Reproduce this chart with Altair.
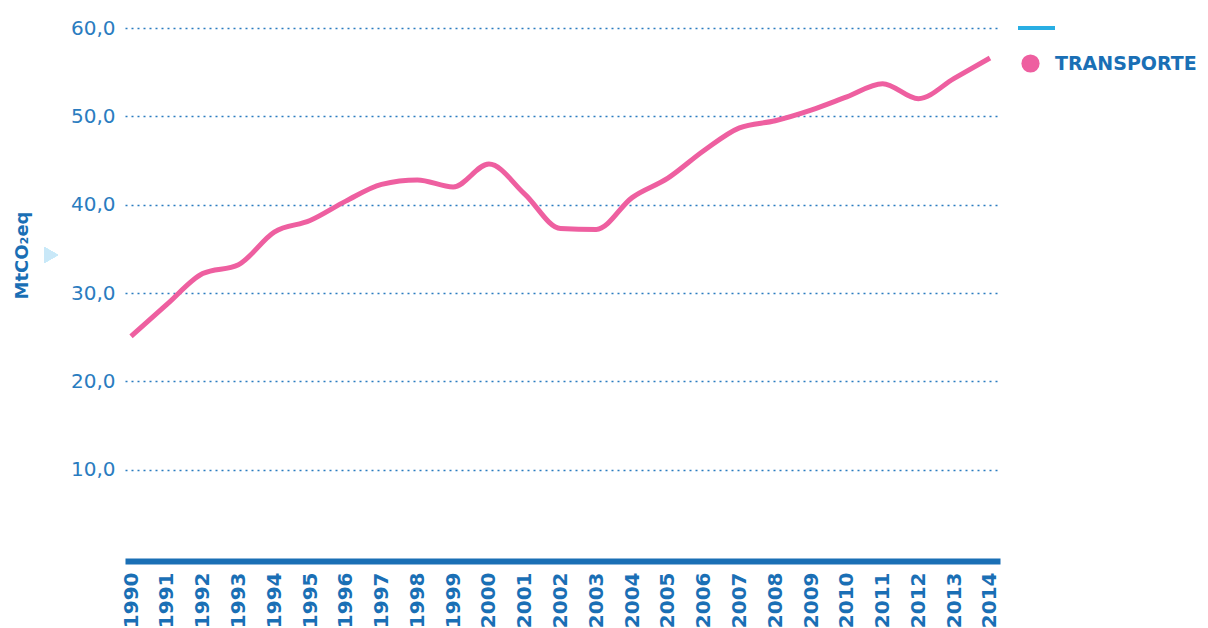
import altair as alt
import pandas as pd

years = list(range(1990, 2015))
transporte = [25.1, 28.7, 32.2, 33.2, 36.9, 38.2, 40.4, 42.3, 42.8, 42.0, 44.6,
              41.2, 37.3, 37.2, 40.8, 43.0, 46.1, 48.7, 49.5, 50.7, 52.2, 53.7,
              52.0, 54.3, 56.6]
y_ticks = [10, 20, 30, 40, 50, 60]
series_name = "TRANSPORTE"

df = pd.DataFrame({"year": years, "value": transporte, "serie": [series_name] * len(years)})

BLUE = "#1a6fb5"
LABEL_BLUE = "#2a7cc0"
PINK = "#ee5fa0"
FONT = "DejaVu Sans"

line = alt.Chart(df).mark_line(strokeWidth=5, interpolate="monotone", clip=False).encode(
    x=alt.X("year:Q",
            scale=alt.Scale(domain=[1989.83, 2014.28], nice=False, zero=False),
            axis=alt.Axis(values=years, format="d", labelAngle=-90, labelAlign="right",
                          labelBaseline="middle", labelFont=FONT, labelFontSize=20,
                          labelFontWeight="bold", labelColor=BLUE, labelPadding=11,
                          ticks=False, grid=False, domainColor=BLUE, domainWidth=6,
                          offset=3, title=None, labelOverlap=False, labelFlush=False)),
    y=alt.Y("value:Q",
            scale=alt.Scale(domain=[0, 60], nice=False),
            axis=alt.Axis(values=y_ticks,
                          labelExpr="replace(format(datum.value, '.1f'), '.', ',')",
                          labelFont=FONT, labelFontSize=20, labelColor=LABEL_BLUE,
                          labelPadding=10, ticks=False, domain=False,
                          grid=True, gridColor=LABEL_BLUE, gridDash=[2, 4], gridWidth=1.5,
                          title="MtCO₂eq", titleFont=FONT, titleFontSize=18,
                          titleFontWeight="bold", titleColor=BLUE, titleAngle=-90,
                          titleX=-103, titleY=227, titleAlign="center",
                          titleBaseline="middle")),
    color=alt.Color("serie:N",
                    scale=alt.Scale(domain=[series_name], range=[PINK]),
                    legend=alt.Legend(orient="none", legendX=896, legendY=26, title=None,
                                      symbolType="circle", symbolSize=330,
                                      symbolFillColor=PINK, symbolStrokeWidth=0,
                                      labelFont=FONT, labelFontSize=19,
                                      labelFontWeight="bold", labelColor=BLUE,
                                      labelOffset=15, padding=0)),
)

legend_line = alt.Chart(df).mark_rule(color="#29aee3", strokeWidth=3, clip=False).encode(
    x=alt.value(893), x2=alt.value(930), y=alt.value(0)
)

triangle = alt.Chart(df).mark_point(shape="triangle-right", filled=True, size=260,
                                     color="#c9e8f8", opacity=1, clip=False).encode(
    x=alt.value(-74), y=alt.value(227)
)

chart = alt.layer(line, legend_line, triangle).properties(
    width=875, height=530,
    background="white",
    autosize=alt.AutoSizeParams(type="none"),
    padding={"left": 117, "top": 20, "right": 200, "bottom": 70},
).configure_view(strokeWidth=0, stroke=None)

chart.save("out.html", embed_options={"renderer": "svg", "actions": False})
